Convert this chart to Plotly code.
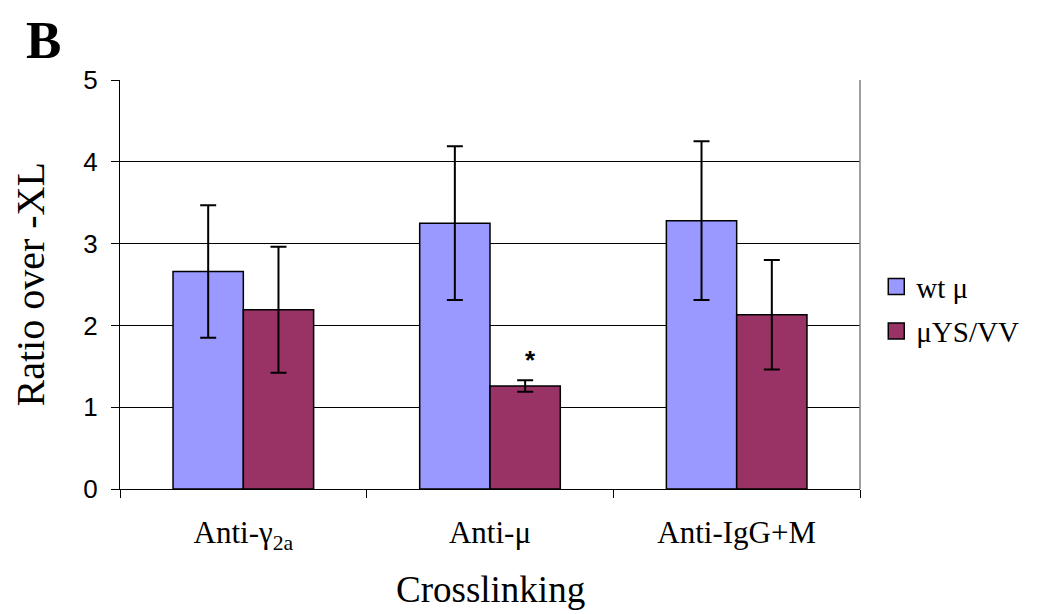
import plotly.graph_objects as go

categories = ["Anti-γ<sub>2a</sub>", "Anti-μ", "Anti-IgG+M"]
wt_values = [2.66, 3.25, 3.28]
wt_errors = [0.81, 0.94, 0.97]
mut_values = [2.19, 1.26, 2.13]
mut_errors = [0.77, 0.07, 0.67]
series_names = ["wt μ", "μYS/VV"]
series_colors = ["#9999FF", "#993366"]
y_ticks = [0, 1, 2, 3, 4, 5]

SERIF = "Liberation Serif, Times New Roman, serif"
SANS = "Liberation Sans, Arial, sans-serif"

fig = go.Figure()
for vals, errs, name, col in [(wt_values, wt_errors, series_names[0], series_colors[0]),
                              (mut_values, mut_errors, series_names[1], series_colors[1])]:
    fig.add_trace(go.Bar(
        x=categories, y=vals, name=name, legendgroup=name, showlegend=False,
        marker=dict(color=col, line=dict(color="black", width=1.5)),
        error_y=dict(type="data", array=errs, color="black", thickness=2, width=8),
    ))
# legend entries (larger square swatches)
for name, col in zip(series_names, series_colors):
    fig.add_trace(go.Scatter(
        x=[None], y=[None], mode="markers", name=name, legendgroup=name,
        marker=dict(symbol="square", size=16, color=col, line=dict(color="black", width=1.5)),
    ))

fig.update_layout(
    width=1048, height=606,
    paper_bgcolor="white", plot_bgcolor="white",
    margin=dict(l=112, r=196, t=72, b=125, autoexpand=False),
    barmode="group", bargap=0.43, bargroupgap=0,
    showlegend=True,
    legend=dict(x=1.022, y=0.44, xanchor="left", yanchor="middle",
                font=dict(family=SERIF, size=29, color="black"),
                itemsizing="trace", tracegroupgap=4),
    xaxis=dict(
        automargin=False,
        showline=True, linecolor="black", linewidth=1,
        ticks="outside", ticklen=8, tickcolor="black", tickson="boundaries",
        ticklabelstandoff=16,
        tickfont=dict(family=SERIF, size=31, color="black"),
    ),
    yaxis=dict(
        automargin=False,
        range=[0, 5], tickvals=y_ticks,
        showline=True, linecolor="black", linewidth=1,
        ticks="outside", ticklen=8, tickcolor="black",
        ticklabelstandoff=8,
        showgrid=True, gridcolor="black", gridwidth=1,
        zeroline=False,
        tickfont=dict(family=SANS, size=26, color="black"),
    ),
)

fig.add_shape(type="line", xref="paper", yref="paper", x0=1, x1=1, y0=0, y1=1,
              line=dict(color="#808080", width=1.5))

# axis titles
fig.add_annotation(xref="paper", yref="paper", x=0.5, y=0, yshift=-100,
                   xanchor="center", yanchor="middle", showarrow=False,
                   text="Crosslinking", font=dict(family=SERIF, size=37, color="black"))
fig.add_annotation(xref="paper", yref="paper", x=0, xshift=-90, y=0.5,
                   xanchor="center", yanchor="middle", showarrow=False, textangle=-90,
                   text="Ratio over -XL", font=dict(family=SERIF, size=40, color="black"))

# significance mark
fig.add_annotation(x=categories[1], y=mut_values[1] + mut_errors[1], xshift=40, yshift=20,
                   text="<b>*</b>", showarrow=False,
                   font=dict(family=SANS, size=26, color="black"))

# panel letter
fig.add_annotation(xref="paper", yref="paper", x=0, xshift=-96, y=1, yshift=40,
                   xanchor="left", yanchor="middle",
                   text="<b>B</b>", showarrow=False,
                   font=dict(family=SERIF, size=53, color="black"))

fig.write_html("out.html")
